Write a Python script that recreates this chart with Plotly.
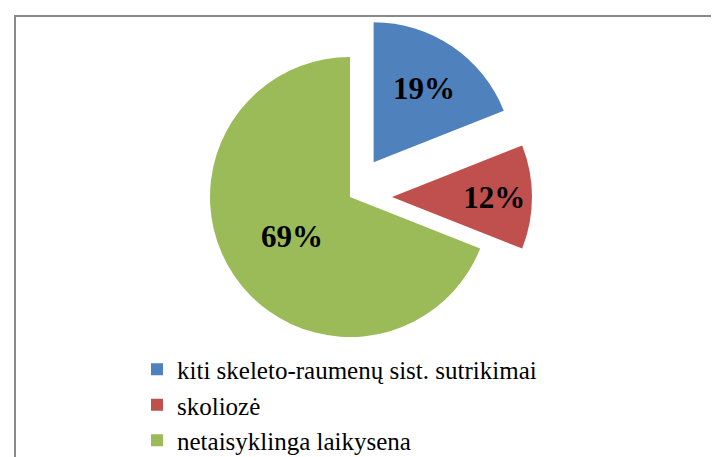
import plotly.graph_objects as go

labels = ["kiti skeleto-raumenų sist. sutrikimai", "skoliozė", "netaisyklinga laikysena"]
values = [19, 12, 69]
colors = ["#4F81BD", "#C0504D", "#9BBB59"]
pulls = [0.3, 0.3, 0.0]

W, H = 719, 457
cx, cy, r = 342, 189, 140
half = r * (1 + max(pulls))
SERIF = "Liberation Serif"

fig = go.Figure(go.Pie(
    labels=labels, values=values, sort=False, direction="clockwise", rotation=0,
    marker=dict(colors=colors, line=dict(width=0)),
    pull=pulls, texttemplate="%{percent:.0%}", textposition="inside",
    insidetextorientation="horizontal",
    textfont=dict(family=SERIF, size=31, color="black", weight="bold"),
    domain=dict(x=[(cx - half) / W, (cx + half) / W], y=[1 - (cy + half) / H, 1 - (cy - half) / H]),
    hoverinfo="skip",
))

fig.update_layout(
    width=W, height=H, margin=dict(l=0, r=0, t=0, b=0, autoexpand=False),
    paper_bgcolor="white", plot_bgcolor="white",
    showlegend=True,
    legend=dict(x=129 / W, y=1 - 397 / H, xanchor="left", yanchor="middle",
                font=dict(family=SERIF, size=25, color="black"),
                itemwidth=30, tracegroupgap=0, bgcolor="rgba(0,0,0,0)"),
    shapes=[dict(type="rect", xref="paper", yref="paper",
                 x0=7 / W, x1=1.05, y0=-0.05, y1=1 - 8 / H,
                 line=dict(color="#8a8a8a", width=2))],
)

fig.write_html("out.html")
